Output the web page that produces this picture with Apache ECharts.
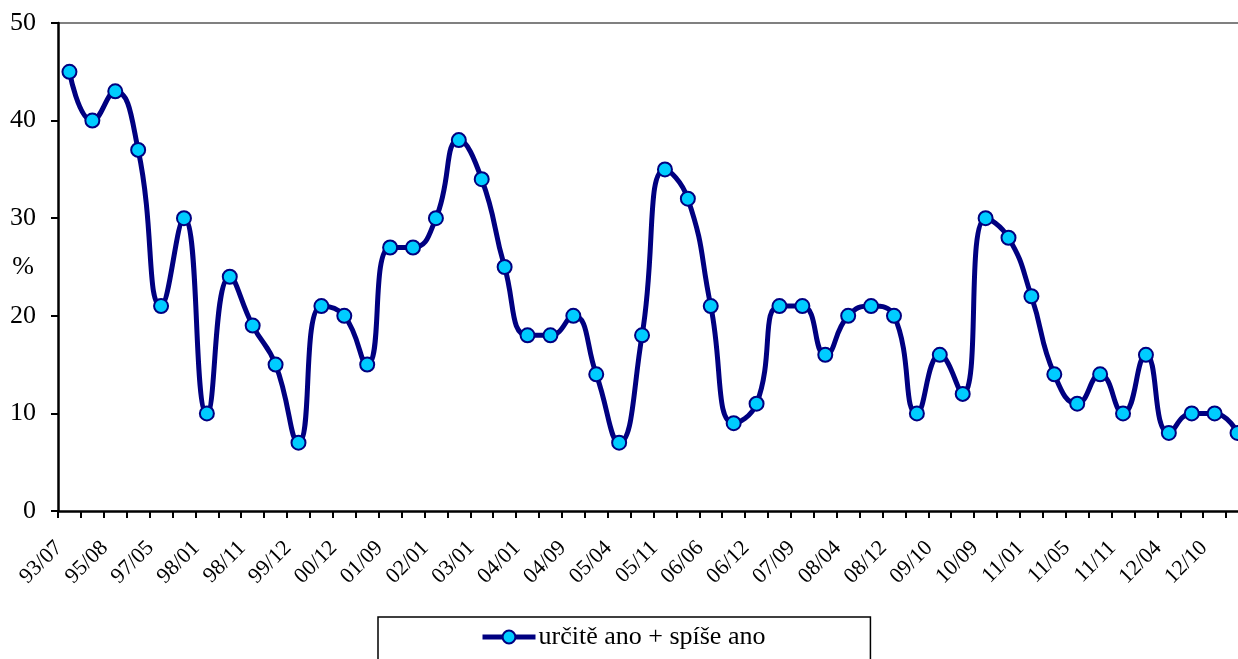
<!DOCTYPE html>
<html>
<head>
<meta charset="utf-8">
<script src="https://cdn.jsdelivr.net/npm/echarts@6/dist/echarts.min.js"></script>
<style>
  html, body { margin: 0; padding: 0; background: #fff; }
  #chart { width: 1238px; height: 659px; }
</style>
</head>
<body>
<div id="chart"></div>
<script>
// popisky osy x (kazdy druhy bod)
var tickLabels = ['93/07', '95/08', '97/05', '98/01', '98/11', '99/12', '00/12', '01/09', '02/01',
  '03/01', '04/01', '04/09', '05/04', '05/11', '06/06', '06/12', '07/09', '08/04', '08/12',
  '09/10', '10/09', '11/01', '11/05', '11/11', '12/04', '12/10'];
var values = [45, 40, 43, 37, 21, 30, 10, 24, 19, 15, 7, 21, 20, 15, 27, 27, 30, 38, 34, 25,
  18, 18, 20, 14, 7, 18, 35, 32, 21, 9, 11, 21, 21, 16, 20, 21, 20, 10, 16, 12,
  30, 28, 22, 14, 11, 14, 10, 16, 8, 10, 10, 8];
var seriesName = 'určitě ano + spíše ano';

var categories = [];
tickLabels.forEach(function (t) {
  categories.push(t);
  categories.push('');
});

var font = 'Liberation Serif';
var chart = echarts.init(document.getElementById('chart'));
var option = {
  animation: false,
  textStyle: { fontFamily: font },
  grid: { left: 58, right: -11, top: 23, bottom: 148, containLabel: false, outerBoundsMode: 'none' },
  legend: {
    top: 617,
    left: 378,
    padding: [7, 105, 20, 102],
    borderColor: '#000',
    borderWidth: 1.5,
    itemWidth: 53,
    itemHeight: 16,
    itemGap: 10,
    lineStyle: { width: 5 },
    itemStyle: { borderWidth: 2 },
    textStyle: { fontFamily: font, fontSize: 26, color: '#000', padding: [0, 0, 0, -2] },
    data: [seriesName]
  },
  xAxis: {
    type: 'category',
    data: categories,
    boundaryGap: true,
    axisLine: { lineStyle: { color: '#000', width: 2.5 } },
    axisTick: { show: true, interval: 0, length: 7, lineStyle: { color: '#000', width: 2 } },
    axisLabel: {
      interval: 1, rotate: 45, fontSize: 22, color: '#000', fontFamily: font,
      margin: 23, padding: [0, 15, 0, 0]
    },
    splitLine: { show: false }
  },
  yAxis: {
    type: 'value',
    min: 0,
    max: 50,
    interval: 10,
    name: '%',
    nameLocation: 'middle',
    nameRotate: 0,
    nameGap: 24,
    nameMoveOverlap: false,
    nameTextStyle: { fontFamily: font, fontSize: 26, color: '#000' },
    axisLine: { show: true, lineStyle: { color: '#000', width: 2.5 } },
    axisTick: { show: true, length: 7, lineStyle: { color: '#000', width: 2 } },
    axisLabel: { fontSize: 26, color: '#000', fontFamily: font, margin: 22 },
    splitLine: { show: false }
  },
  graphic: [{
    type: 'line',
    shape: { x1: 58, y1: 23, x2: 1238, y2: 23 },
    style: { stroke: '#808080', lineWidth: 2 }
  }],
  series: [{
    name: seriesName,
    type: 'line',
    data: values,
    smooth: 0.5,
    symbol: 'circle',
    symbolSize: 14,
    lineStyle: { color: '#000080', width: 5 },
    itemStyle: { color: '#00ccff', borderColor: '#000080', borderWidth: 2 },
    z: 3
  }]
};
chart.setOption(option);
</script>
</body>
</html>
